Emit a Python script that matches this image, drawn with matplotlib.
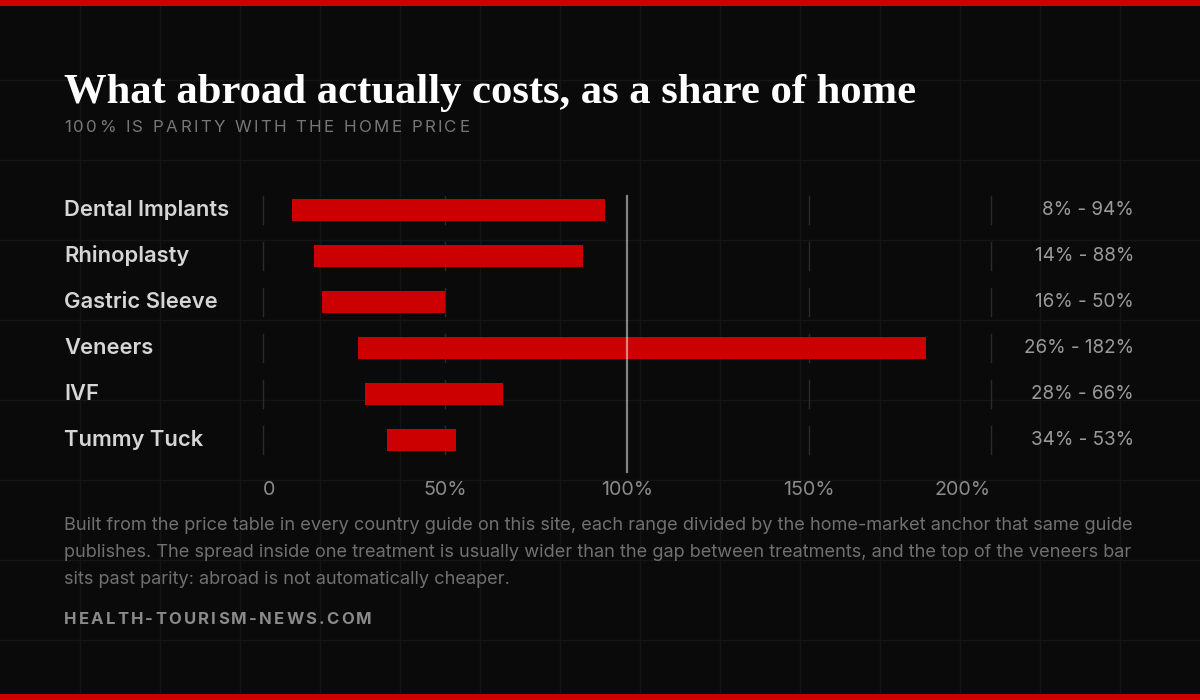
import matplotlib
matplotlib.use("Agg")
import matplotlib.pyplot as plt

# ---- data ----
treatments = ["Dental Implants", "Rhinoplasty", "Gastric Sleeve", "Veneers", "IVF", "Tummy Tuck"]
low_pct = [8, 14, 16, 26, 28, 34]
high_pct = [94, 88, 50, 182, 66, 53]
tick_vals = [0, 50, 100, 150, 200]
tick_labels = ["0", "50%", "100%", "150%", "200%"]
parity = 100

title = "What abroad actually costs, as a share of home"
subtitle = "100% IS PARITY WITH THE HOME PRICE"
note_lines = [
    "Built from the price table in every country guide on this site, each range divided by the home-market anchor that same guide",
    "publishes. The spread inside one treatment is usually wider than the gap between treatments, and the top of the veneers bar",
    "sits past parity: abroad is not automatically cheaper.",
]
brand = "HEALTH-TOURISM-NEWS.COM"

# ---- style ----
W, H = 1200, 700
BG = "#0a0a0a"
GRID = "#151515"
RED = "#cc0000"
SANS = ["Inter", "DejaVu Sans"]
SERIF = ["Liberation Serif", "DejaVu Serif"]

fig = plt.figure(figsize=(12, 7), dpi=100, facecolor=BG)


def fx(px):
    return px / W


def fy(py):
    return 1 - py / H


# background grid + red edge bands
bg = fig.add_axes([0, 0, 1, 1], zorder=-5)
bg.set_xlim(0, W)
bg.set_ylim(H, 0)
bg.axis("off")
bg.set_facecolor(BG)
for gx in range(80, W, 80):
    bg.axvline(gx, color=GRID, lw=1, zorder=0)
for gy in range(80, H, 80):
    bg.axhline(gy, color=GRID, lw=1, zorder=0)
bg.axhspan(0, 6, color=RED, lw=0, zorder=5)
bg.axhspan(694, 700, color=RED, lw=0, zorder=5)


def tracked(x_px, y_px, s, spacing, **kw):
    # text with letter spacing, placed char by char
    r = fig.canvas.get_renderer()
    probe = fig.text(0, 0, "", **kw)

    def width(t):
        probe.set_text(t)
        return probe.get_window_extent(r).width

    for i, ch in enumerate(s):
        if ch == " ":
            continue
        x = x_px + width(s[:i + 1]) - width(ch) + i * spacing
        fig.text(fx(x), fy(y_px), ch, ha="left", va="center", **kw)
    probe.remove()


# ---- chart axes ----
x0_px, x200_px = 263.3, 991.0
row0, row_step = 210, 46
n = len(treatments)
top_px = row0 - row_step / 2
bot_px = top_px + n * row_step
ax = fig.add_axes([fx(x0_px), fy(bot_px), fx(x200_px - x0_px), (bot_px - top_px) / H])
ax.set_xlim(0, 200)
ax.set_ylim(n - 0.5, -0.5)
ax.axis("off")
ax.patch.set_alpha(0)

ys = list(range(n))
for tv in tick_vals:
    if tv == parity:
        continue
    for y in ys:
        ax.plot([tv, tv], [y - 0.3, y + 0.3], color="#2b2b2b", lw=1, zorder=1, clip_on=False)

ax.barh(ys, [h - l for l, h in zip(low_pct, high_pct)], left=low_pct, height=0.48,
        color=RED, zorder=2)

ax.plot([parity, parity], [-0.3, n - 1 + 0.7], color="white", alpha=0.5, lw=1.6,
        zorder=3, clip_on=False)

# tick labels under the axis
for i, (tv, tl) in enumerate(zip(tick_vals, tick_labels)):
    ha = "left" if i == 0 else ("right" if i == len(tick_vals) - 1 else "center")
    ax.text(tv, n - 1 + 1.08, tl, ha=ha, va="center", color="#8a8a8a",
            fontsize=14.2, family=SANS, clip_on=False)

# row labels and ranges
for y, name, lo, hi in zip(ys, treatments, low_pct, high_pct):
    fig.text(fx(64), fy(row0 + y * row_step), name, ha="left", va="center",
             color="#d6d6d6", fontsize=15.8, fontweight="semibold", family=SANS)
    fig.text(fx(1134), fy(row0 + y * row_step), f"{lo}% - {hi}%", ha="right", va="center",
             color="#9a9a9a", fontsize=13.6, family=SANS)

# ---- header / footer ----
fig.text(fx(64), fy(103), title, ha="left", va="baseline", color="white",
         fontsize=30.7, fontweight="bold", family=SERIF)
tracked(64, 128, subtitle, 2.4, color="#777777", fontsize=12.2, family=SANS)

for i, line in enumerate(note_lines):
    fig.text(fx(64), fy(525 + i * 27.5), line, ha="left", va="center",
             color="#707070", fontsize=13.1, family=SANS)

tracked(64, 620, brand, 2.2, color="#8a8a8a", fontsize=12, fontweight="bold", family=SANS)

fig.savefig("out.png", dpi=100, facecolor=BG)
